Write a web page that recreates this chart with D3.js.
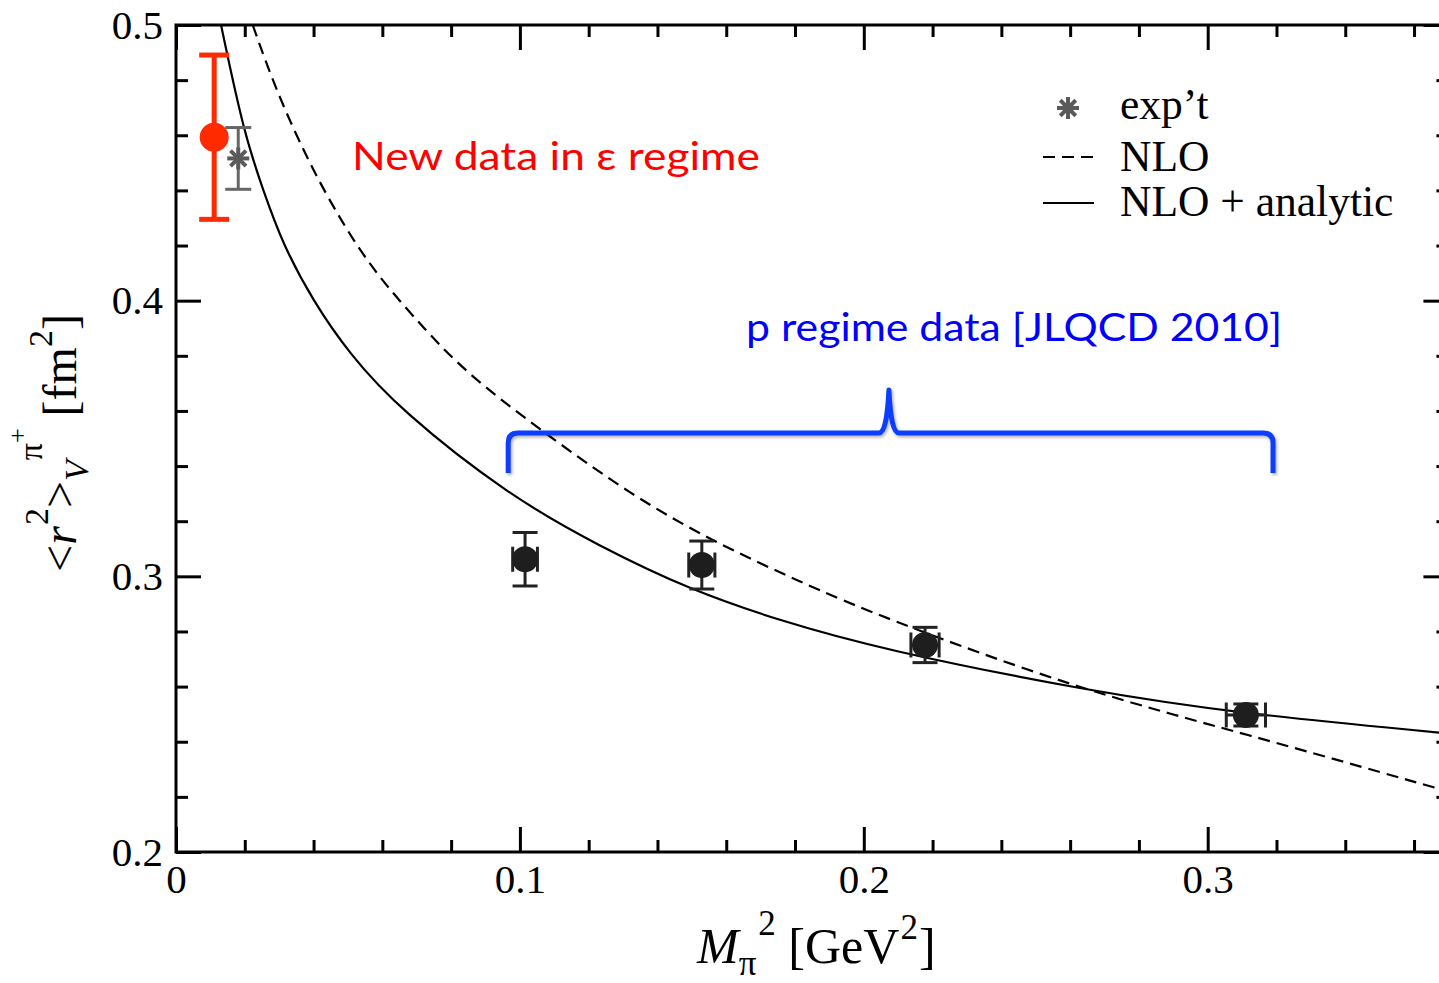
<!DOCTYPE html>
<html><head><meta charset="utf-8">
<script src="https://cdn.jsdelivr.net/npm/d3@7"></script>
<style>body{margin:0;background:#fff} svg{display:block}</style>
</head><body>
<svg id="c" width="1439" height="983"></svg>
<script>
// ---- data ----
const solidX = [0.0131,0.0198,0.0254,0.0310,0.0398,0.0504,0.0651,0.0971,0.1233,0.1495,0.1756,0.2047,0.2661,0.3103,0.3676];
const solidY = [0.5000,0.4605,0.4399,0.4206,0.4000,0.3807,0.3604,0.3290,0.3108,0.2951,0.2839,0.2736,0.2582,0.2501,0.2433];
const dashX  = [0.0223,0.0291,0.0388,0.0485,0.0582,0.0727,0.0845,0.1059,0.1330,0.1572,0.1815,0.2047,0.2629,0.3103,0.3676];
const dashY  = [0.5000,0.4762,0.4496,0.4278,0.4095,0.3891,0.3737,0.3531,0.3289,0.3120,0.2980,0.2854,0.2588,0.2431,0.2228];
const pX    = [0.1015,0.1529,0.2178,0.3111];
const pY    = [0.3062,0.3041,0.2751,0.2497];
const pYErr = [0.0097,0.0087,0.0064,0.0040];
const pXErr = [0.0036,0.0038,0.0041,0.0057];
const epsX = [0.0111], epsY = [0.4593], epsErr = [0.0298];
const expX = [0.0181], expY = [0.4516], expErr = [0.0112];
const xMajor = [0,0.1,0.2,0.3];
const xTickLabels = ["0","0.1","0.2","0.3"];
const xMinor = [0.02,0.04,0.06,0.08,0.12,0.14,0.16,0.18,0.22,0.24,0.26,0.28,0.32,0.34,0.36];
const yMajor = [0.2,0.3,0.4,0.5];
const yTickLabels = ["0.2","0.3","0.4","0.5"];
const yMinor = [0.22,0.24,0.26,0.28,0.32,0.34,0.36,0.38,0.42,0.44,0.46,0.48];
const legendLabels = ["exp\u2019t","NLO","NLO + analytic"];
// bracket annotation (data coords): left, middle, right x; bar y, end y, peak y
const braceX = [0.0966,0.2073,0.3190];
const braceY = [0.3520,0.3375,0.3676];

// ---- layout ----
const svg = d3.select("#c");
const L = 176, T = 25, B = 852;
const x = d3.scaleLinear().domain([0,0.37]).range([L, L+0.37*3439]);
const y = d3.scaleLinear().domain([0.2,0.5]).range([B, T]);
const R = x(0.37);
const serif = "'Liberation Serif','Times New Roman',serif";

svg.append("defs").html(`
 <clipPath id="clip"><rect x="${L}" y="${T}" width="${R-L}" height="${B-T}"/></clipPath>
 <filter id="sh" x="-5%" y="-20%" width="110%" height="160%"><feDropShadow dx="1.5" dy="2" stdDeviation="1.5" flood-color="#000" flood-opacity="0.3"/></filter>`);

function styleAxis(g, labels){
  g.select(".domain").remove();
  g.selectAll(".tick line").attr("stroke","#000").attr("stroke-width",3);
  g.selectAll(".tick text").attr("font-family",serif).attr("font-size",41).attr("fill","#000");
  if(!labels) g.selectAll(".tick text").remove();
}
// bottom
svg.append("g").attr("transform",`translate(0,${B})`)
  .call(d3.axisBottom(x).tickValues(xMajor).tickSize(-25).tickSizeOuter(0).tickPadding(12).tickFormat((d,i)=>xTickLabels[i]))
  .call(g=>styleAxis(g,true));
svg.append("g").attr("transform",`translate(0,${B})`)
  .call(d3.axisBottom(x).tickValues(xMinor).tickSize(-12).tickSizeOuter(0)).call(g=>styleAxis(g,false));
// top
svg.append("g").attr("transform",`translate(0,${T})`)
  .call(d3.axisTop(x).tickValues(xMajor).tickSize(-25).tickSizeOuter(0)).call(g=>styleAxis(g,false));
svg.append("g").attr("transform",`translate(0,${T})`)
  .call(d3.axisTop(x).tickValues(xMinor).tickSize(-12).tickSizeOuter(0)).call(g=>styleAxis(g,false));
// left
svg.append("g").attr("transform",`translate(${L},0)`)
  .call(d3.axisLeft(y).tickValues(yMajor).tickSize(-25).tickSizeOuter(0).tickPadding(13).tickFormat((d,i)=>yTickLabels[i]))
  .call(g=>styleAxis(g,true));
svg.append("g").attr("transform",`translate(${L},0)`)
  .call(d3.axisLeft(y).tickValues(yMinor).tickSize(-12).tickSizeOuter(0)).call(g=>styleAxis(g,false));
// right
svg.append("g").attr("transform",`translate(${R},0)`)
  .call(d3.axisRight(y).tickValues(yMajor).tickSize(-25).tickSizeOuter(0)).call(g=>styleAxis(g,false));
svg.append("g").attr("transform",`translate(${R},0)`)
  .call(d3.axisRight(y).tickValues(yMinor).tickSize(-12).tickSizeOuter(0)).call(g=>styleAxis(g,false));
// frame
svg.append("rect").attr("x",L).attr("y",T).attr("width",R-L).attr("height",B-T)
  .attr("fill","none").attr("stroke","#000").attr("stroke-width",3);

// ---- curves ----
const line = d3.line().x(d=>x(d[0])).y(d=>y(d[1])).curve(d3.curveBasis);
const plot = svg.append("g").attr("clip-path","url(#clip)");
plot.append("path").attr("d",line(solidX.map((v,i)=>[v,solidY[i]])))
  .attr("fill","none").attr("stroke","#000").attr("stroke-width",2.2);
plot.append("path").attr("d",line(dashX.map((v,i)=>[v,dashY[i]])))
  .attr("fill","none").attr("stroke","#000").attr("stroke-width",2.2).attr("stroke-dasharray","12,7");

// ---- error bars helper ----
function vbar(g, cx, cy, e, col, w, cap){
  g.append("line").attr("x1",x(cx)).attr("x2",x(cx)).attr("y1",y(cy+e)).attr("y2",y(cy-e)).attr("stroke",col).attr("stroke-width",w);
  [cy+e,cy-e].forEach(v=>g.append("line").attr("x1",x(cx)-cap/2).attr("x2",x(cx)+cap/2).attr("y1",y(v)).attr("y2",y(v)).attr("stroke",col).attr("stroke-width",w));
}
function hbar(g, cx, cy, e, col, w, cap){
  g.append("line").attr("x1",x(cx-e)).attr("x2",x(cx+e)).attr("y1",y(cy)).attr("y2",y(cy)).attr("stroke",col).attr("stroke-width",w);
  [cx-e,cx+e].forEach(v=>g.append("line").attr("x1",x(v)).attr("x2",x(v)).attr("y1",y(cy)-cap/2).attr("y2",y(cy)+cap/2).attr("stroke",col).attr("stroke-width",w));
}
// JLQCD p-regime points
const pg = svg.append("g");
pX.forEach((v,i)=>{
  vbar(pg, v, pY[i], pYErr[i], "#222", 3, 25);
  hbar(pg, v, pY[i], pXErr[i], "#222", 3, 25);
  pg.append("circle").attr("cx",x(v)).attr("cy",y(pY[i])).attr("r",13).attr("fill","#1e1e1e");
});
// experiment (star)
function star(g, cx, cy, s, col, w){
  [0,45,90,135].forEach(a=>{
    const r=a*Math.PI/180;
    g.append("line").attr("x1",cx-s*Math.cos(r)).attr("x2",cx+s*Math.cos(r))
      .attr("y1",cy-s*Math.sin(r)).attr("y2",cy+s*Math.sin(r)).attr("stroke",col).attr("stroke-width",w);
  });
}
const eg = svg.append("g");
expX.forEach((v,i)=>{
  vbar(eg, v, expY[i], expErr[i], "#666", 3, 26);
  star(eg, x(v), y(expY[i]), 11, "#5a5a5a", 4);
});
// epsilon regime point (red)
const rg = svg.append("g");
epsX.forEach((v,i)=>{
  vbar(rg, v, epsY[i], epsErr[i], "#ff2a00", 5, 30);
  rg.append("circle").attr("cx",x(v)).attr("cy",y(epsY[i])).attr("r",14.5).attr("fill","#ff2a00");
});

// ---- legend ----
const lg = svg.append("g");
star(lg, 1068, 108, 11, "#5a5a5a", 4);
lg.append("line").attr("x1",1043).attr("x2",1094).attr("y1",157).attr("y2",157).attr("stroke","#000").attr("stroke-width",2.2).attr("stroke-dasharray","12,7");
lg.append("line").attr("x1",1043).attr("x2",1094).attr("y1",203).attr("y2",203).attr("stroke","#000").attr("stroke-width",2.2);
[119,171,216].forEach((by,i)=>lg.append("text").attr("x",1120).attr("y",by)
  .attr("font-family",serif).attr("font-size",43.5).attr("fill","#000").text(legendLabels[i]));

// ---- annotations ----
svg.append("text").attr("x",352).attr("y",170).attr("font-family","Lato, 'Open Sans', sans-serif")
  .attr("font-size",39).attr("fill","#ff0000").attr("textLength",408).attr("lengthAdjust","spacingAndGlyphs")
  .text("New data in \u03b5 regime");
svg.append("text").attr("x",746).attr("y",341).attr("font-family","Lato, 'Open Sans', sans-serif")
  .attr("font-size",39).attr("fill","#0000ff").attr("textLength",536).attr("lengthAdjust","spacingAndGlyphs")
  .text("p regime data [JLQCD 2010]");

// curly brace
{
  const x0=x(braceX[0]), xm=x(braceX[1]), x1=x(braceX[2]);
  const yh=y(braceY[0]), ye=y(braceY[1]), yp=y(braceY[2]);
  const r=10;
  const d = `M${x0},${ye} L${x0},${yh+r} Q${x0},${yh} ${x0+r},${yh} L${xm-10},${yh} Q${xm-2},${yh} ${xm},${yp}`
          + ` Q${xm+2},${yh} ${xm+10},${yh} L${x1-r},${yh} Q${x1},${yh} ${x1},${yh+r} L${x1},${ye}`;
  svg.append("path").attr("d",d).attr("fill","none").attr("stroke","#0a3cff").attr("stroke-width",5)
    .attr("stroke-linejoin","round").attr("filter","url(#sh)");
}

// ---- axis titles ----
const xt = svg.append("text").attr("x",697).attr("y",963).attr("font-family",serif).attr("font-size",50).attr("fill","#000");
xt.append("tspan").attr("font-style","italic").text("M");
xt.append("tspan").attr("font-size",35).attr("dy",12).text("\u03c0");
xt.append("tspan").attr("font-size",35).attr("dy",-40).attr("dx",2).text("2");
xt.append("tspan").attr("dy",28).text(" [GeV");
xt.append("tspan").attr("font-size",35).attr("dy",-24).attr("dx",1).text("2");
xt.append("tspan").attr("dy",24).attr("dx",1).text("]");

const yt = svg.append("text").attr("transform","translate(76,443) rotate(-90)").attr("text-anchor","middle")
  .attr("font-family",serif).attr("font-size",48).attr("fill","#000");
yt.append("tspan").text("<");
yt.append("tspan").attr("font-style","italic").text("r");
yt.append("tspan").attr("font-size",34).attr("dy",-28).attr("dx",1).text("2");
yt.append("tspan").attr("dy",28).text(">");
yt.append("tspan").attr("font-size",34).attr("font-style","italic").attr("dy",12).text("V");
yt.append("tspan").attr("font-size",34).attr("dy",-46).text("\u03c0");
yt.append("tspan").attr("font-size",26).attr("dy",-16).text("+");
yt.append("tspan").attr("dy",50).text(" [fm");
yt.append("tspan").attr("font-size",34).attr("dy",-24).text("2");
yt.append("tspan").attr("dy",24).text("]");
</script>
</body></html>
